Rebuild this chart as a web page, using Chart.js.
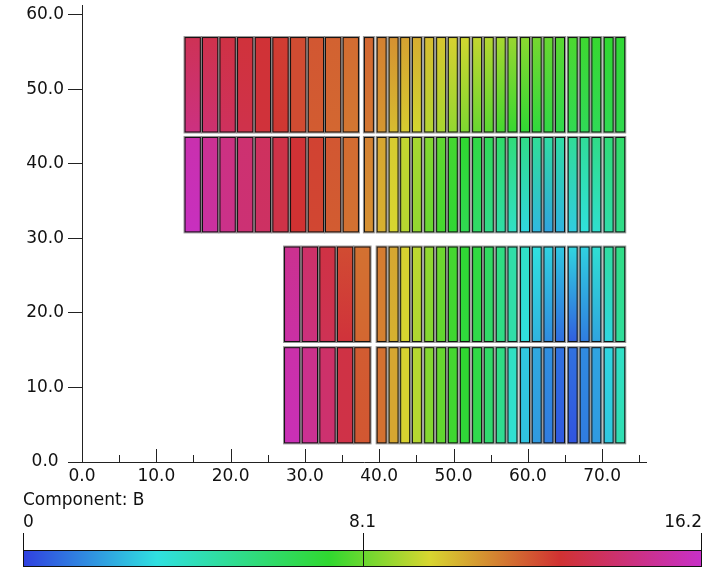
<!DOCTYPE html>
<html>
<head>
<meta charset="utf-8">
<script src="https://cdn.jsdelivr.net/npm/chart.js@4.4.1/dist/chart.umd.min.js"></script>
<style>
  html, body { margin: 0; padding: 0; background: #fff; }
  #wrap { width: 714px; height: 569px; }
</style>
</head>
<body>
<div id="wrap"><canvas id="chart"></canvas></div>
<script>
// left edges of the panels (x units)
var wideX = [13.8, 16.15, 18.5, 20.87, 23.25, 25.62, 28.0, 30.38, 32.7, 35.08];
var narrowX = [37.94, 39.65, 41.26, 42.82, 44.4, 46.05, 47.66, 49.23, 50.85, 52.5, 54.07,
  55.68, 57.26, 58.95, 60.52, 62.1, 63.66, 65.36, 66.97, 68.55, 70.2, 71.77];
var lowWideX = [27.19, 29.57, 31.94, 34.31, 36.64];
var lowNarrowX = [39.65, 41.26, 42.82, 44.4, 46.05, 47.66, 49.23, 50.85, 52.5, 54.07,
  55.68, 57.26, 58.95, 60.52, 62.1, 63.66, 65.36, 66.97, 68.55, 70.2, 71.77];

// row extents (y units): [bottom, top]
var rowY = [[44.2, 57.0], [30.8, 43.6], [16.1, 28.9], [2.5, 15.4]];

// component B values at top and bottom of each panel
var r1WideTop = [13.6, 13.4, 13.2, 13.0, 12.9, 12.6, 12.3, 12.1, 11.9, 11.7];
var r1WideBot = [14.6, 14.2, 13.8, 13.4, 13.0, 12.7, 12.3, 12.0, 11.8, 11.5];
var r1NarTop = [11.8, 11.3, 11.0, 10.7, 10.5, 10.2, 10.0, 9.8, 9.6, 9.4, 9.2, 9.0, 8.8, 8.6, 8.3, 8.1, 7.9, 7.7, 7.5, 7.4, 7.3, 7.2];
var r1NarBot = [11.5, 10.9, 10.2, 9.9, 9.6, 9.2, 9.0, 8.7, 8.4, 8.1, 7.9, 7.6, 7.4, 7.2, 7.0, 6.8, 6.6, 6.5, 6.4, 6.4, 6.5, 6.6];

var r2WideTop = [15.6, 15.0, 14.6, 14.2, 13.8, 13.3, 12.9, 12.5, 12.1, 11.7];
var r2WideBot = [16.0, 15.3, 14.8, 14.3, 13.9, 13.3, 12.8, 12.4, 12.0, 11.6];
var r2NarTop = [11.3, 10.6, 9.9, 9.4, 9.0, 8.5, 8.0, 7.6, 7.3, 6.8, 6.4, 6.0, 5.6, 5.3, 4.9, 4.6, 4.6, 4.9, 4.9, 5.3, 5.6, 6.0];
var r2NarBot = [11.0, 10.4, 9.7, 9.2, 8.7, 8.1, 7.6, 7.2, 6.5, 6.0, 5.2, 4.5, 3.8, 3.0, 2.4, 2.0, 2.3, 2.8, 3.3, 3.6, 4.5, 5.2];

var r3WideTop = [14.9, 14.0, 13.2, 12.3, 11.6];
var r3WideBot = [15.4, 14.5, 13.6, 13.0, 11.8];
var r3NarTop = [11.4, 10.6, 9.8, 9.3, 8.7, 8.2, 7.6, 7.2, 6.9, 6.2, 5.4, 4.5, 3.8, 3.2, 2.9, 2.7, 3.0, 2.9, 3.5, 4.7, 5.3];
var r3NarBot = [11.3, 10.4, 9.7, 9.1, 8.5, 8.0, 7.5, 7.0, 6.7, 6.0, 5.3, 4.5, 3.2, 2.3, 1.5, 0.9, 0.6, 1.2, 2.0, 3.0, 4.8];

var r4WideTop = [15.5, 14.8, 14.0, 13.2, 12.0];
var r4WideBot = [15.8, 15.0, 14.2, 13.3, 12.1];
var r4NarTop = [11.6, 10.6, 9.8, 9.2, 8.5, 8.1, 7.6, 7.3, 6.8, 6.1, 5.4, 3.9, 2.7, 2.1, 1.6, 1.0, 1.0, 1.5, 2.0, 3.0, 3.8];
var r4NarBot = [11.6, 10.6, 9.8, 9.2, 8.5, 8.0, 7.5, 7.1, 6.6, 5.8, 5.0, 3.5, 2.6, 1.8, 1.2, 0.5, 0.4, 1.2, 1.8, 2.7, 4.3];

var bMin = 0, bMid = 8.1, bMax = 16.2;
var wideW = 2.19, narrowW = 1.34;

// colour map stops
var stops = [
  [0, [48, 64, 224]],
  [3.2, [48, 224, 224]],
  [7.3, [48, 216, 48]],
  [9.7, [216, 214, 48]],
  [12.8, [208, 50, 50]],
  [16.2, [200, 48, 200]]
];
function colorFor(v) {
  if (v <= stops[0][0]) return 'rgb(' + stops[0][1].join(',') + ')';
  for (var i = 1; i < stops.length; i++) {
    if (v <= stops[i][0]) {
      var a = stops[i - 1], b = stops[i];
      var t = (v - a[0]) / (b[0] - a[0]);
      var c = a[1].map(function (k, j) { return Math.round(k + (b[1][j] - k) * t); });
      return 'rgb(' + c.join(',') + ')';
    }
  }
  return 'rgb(' + stops[stops.length - 1][1].join(',') + ')';
}

// build the panel list
var panels = [];
function addRow(xs, w, yr, tops, bots) {
  xs.forEach(function (x0, i) {
    panels.push({ x: x0 + w / 2, y: (yr[0] + yr[1]) / 2, x0: x0, x1: x0 + w, y0: yr[0], y1: yr[1], vt: tops[i], vb: bots[i] });
  });
}
addRow(wideX, wideW, rowY[0], r1WideTop, r1WideBot);
addRow(narrowX, narrowW, rowY[0], r1NarTop, r1NarBot);
addRow(wideX, wideW, rowY[1], r2WideTop, r2WideBot);
addRow(narrowX, narrowW, rowY[1], r2NarTop, r2NarBot);
addRow(lowWideX, wideW, rowY[2], r3WideTop, r3WideBot);
addRow(lowNarrowX, narrowW, rowY[2], r3NarTop, r3NarBot);
addRow(lowWideX, wideW, rowY[3], r4WideTop, r4WideBot);
addRow(lowNarrowX, narrowW, rowY[3], r4NarTop, r4NarBot);

var fontFamily = '"DejaVu Sans", Verdana, sans-serif';

var panelPlugin = {
  id: 'panels',
  beforeDatasetsDraw: function (chart) {
    var ctx = chart.ctx, xs = chart.scales.x, ys = chart.scales.y;
    ctx.save();
    chart.data.datasets[0].data.forEach(function (p) {
      var l = xs.getPixelForValue(p.x0), r = xs.getPixelForValue(p.x1);
      var t = ys.getPixelForValue(p.y1), b = ys.getPixelForValue(p.y0);
      var g = ctx.createLinearGradient(0, t, 0, b);
      g.addColorStop(0, colorFor(p.vt));
      g.addColorStop(1, colorFor(p.vb));
      ctx.fillStyle = g;
      ctx.fillRect(l, t, r - l, b - t);
      ctx.strokeStyle = 'rgba(120,120,120,0.8)';
      ctx.lineWidth = 1;
      ctx.strokeRect(l - 0.5, t - 0.5, r - l + 1, b - t + 1);
      ctx.strokeStyle = '#111';
      ctx.strokeRect(l + 0.5, t + 0.5, r - l - 1, b - t - 1);
    });
    ctx.restore();
  },
  afterDraw: function (chart) {
    var ctx = chart.ctx, xs = chart.scales.x;
    var base = chart.chartArea.bottom;
    ctx.save();
    ctx.strokeStyle = '#222';
    ctx.lineWidth = 1;
    // x tick marks point up into the plot
    xs.ticks.forEach(function (tk) {
      var px = Math.round(xs.getPixelForValue(tk.value)) + 0.5;
      var len = tk.value % 10 === 0 ? 13 : 7;
      ctx.beginPath();
      ctx.moveTo(px, base);
      ctx.lineTo(px, base - len);
      ctx.stroke();
    });

    // colour bar
    var cb = { left: 23, right: 702, top: 550, bottom: 567, tickTop: 533 };
    var g = ctx.createLinearGradient(cb.left, 0, cb.right, 0);
    stops.forEach(function (s) {
      g.addColorStop((s[0] - bMin) / (bMax - bMin), 'rgb(' + s[1].join(',') + ')');
    });
    ctx.fillStyle = g;
    ctx.fillRect(cb.left, cb.top, cb.right - cb.left, cb.bottom - cb.top);
    ctx.strokeStyle = '#111';
    ctx.strokeRect(cb.left + 0.5, cb.top + 0.5, cb.right - cb.left - 1, cb.bottom - cb.top - 1);
    var mid = cb.left + (bMid - bMin) / (bMax - bMin) * (cb.right - cb.left);
    [cb.left + 0.5, Math.round(mid) + 0.5, cb.right - 0.5].forEach(function (px) {
      ctx.beginPath();
      ctx.moveTo(px, cb.tickTop);
      ctx.lineTo(px, cb.bottom);
      ctx.stroke();
    });
    ctx.fillStyle = '#111';
    ctx.font = '17px ' + fontFamily;
    ctx.textBaseline = 'alphabetic';
    ctx.textAlign = 'left';
    ctx.fillText('Component: B', 23, 505);
    ctx.fillText(String(bMin), cb.left, 527);
    ctx.textAlign = 'center';
    ctx.fillText(bMid.toFixed(1), mid, 527);
    ctx.textAlign = 'right';
    ctx.fillText(bMax.toFixed(1), cb.right, 527);
    ctx.restore();
  }
};

var tickFont = { family: fontFamily, size: 17 };

var chart = new Chart(document.getElementById('chart'), {
  type: 'scatter',
  data: {
    datasets: [{
      data: panels,
      pointRadius: 0,
      pointHoverRadius: 0
    }]
  },
  options: {
    responsive: true,
    maintainAspectRatio: false,
    animation: false,
    layout: { padding: { left: 7, right: 68, top: 5, bottom: 77 } },
    plugins: { legend: { display: false }, tooltip: { enabled: false } },
    scales: {
      x: {
        type: 'linear',
        min: 0,
        max: 75.9,
        grid: { display: false },
        border: { display: true, color: '#222', width: 1 },
        ticks: {
          stepSize: 5,
          includeBounds: false,
          autoSkip: false,
          maxRotation: 0,
          padding: -4,
          color: '#111',
          font: tickFont,
          callback: function (v) { return v % 10 === 0 ? v.toFixed(1) : ''; }
        },
        afterFit: function (s) { s.height = 30; s.paddingLeft = 0; s.paddingRight = 0; }
      },
      y: {
        type: 'linear',
        min: 0,
        max: 61.3,
        grid: { display: true, drawOnChartArea: false, drawTicks: true, tickLength: 14, color: '#222' },
        border: { display: true, color: '#222', width: 1 },
        ticks: {
          stepSize: 10,
          includeBounds: false,
          padding: 4,
          color: '#111',
          font: tickFont,
          // the zero label sits a little further left, clear of the x labels
          callback: function (v) { return v === 0 ? v.toFixed(1) + ' ' : v.toFixed(1); }
        },
        afterFit: function (s) { s.width = 75; s.paddingTop = 0; s.paddingBottom = 0; }
      }
    }
  },
  plugins: [panelPlugin]
});
</script>
</body>
</html>
